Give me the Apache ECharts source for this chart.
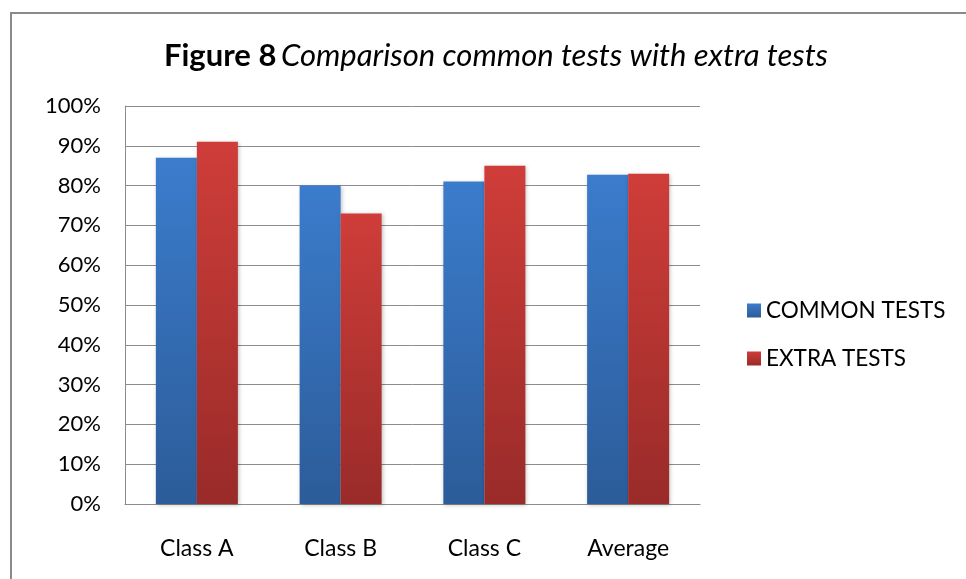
<!DOCTYPE html>
<html>
<head>
<meta charset="utf-8">
<script src="https://cdn.jsdelivr.net/npm/echarts@6/dist/echarts.min.js"></script>
<style>
  html, body { margin: 0; padding: 0; background: #fff; }
  #myChart { width: 966px; height: 579px; }
</style>
</head>
<body>
<div id="myChart"></div>
<script>
// data
var categories = ['Class A', 'Class B', 'Class C', 'Average'];
var commonTests = [87, 80, 81, 82.7];
var extraTests = [91, 73, 85, 83];
var seriesNames = ['COMMON TESTS', 'EXTRA TESTS'];

var font = 'Lato';
var myChart = echarts.init(document.getElementById('myChart'));

function grad(top, bottom) {
    return new echarts.graphic.LinearGradient(0, 0, 0, 1, [
        { offset: 0, color: top },
        { offset: 1, color: bottom }
    ]);
}

var option = {
    backgroundColor: '#fff',
    textStyle: { fontFamily: font },
    animation: false,
    graphic: [{
        type: 'rect',
        shape: { x: 11, y: 13, width: 1000, height: 700 },
        style: { fill: 'none', stroke: '#8a8a8a', lineWidth: 2 },
        silent: true
    }],
    title: {
        text: '{b|Figure 8} {i|Comparison common tests with extra tests}',
        left: 491,
        textAlign: 'center',
        top: 35,
        textStyle: {
            fontWeight: 'normal',
            rich: {
                b: { fontFamily: font, fontWeight: 'bold', fontSize: 31, color: '#000' },
                i: { fontFamily: font, fontStyle: 'italic', fontWeight: 'normal', fontSize: 31, color: '#000' }
            }
        }
    },
    legend: {
        orient: 'vertical',
        left: 742,
        top: 294,
        itemWidth: 14,
        itemHeight: 14,
        itemGap: 25,
        icon: 'rect',
        textStyle: { fontSize: 22.5, color: '#000', fontFamily: font },
        data: seriesNames
    },
    grid: { left: 125, top: 106, width: 575, height: 398, containLabel: false },
    xAxis: {
        type: 'category',
        data: categories,
        axisTick: { show: false },
        axisLine: { show: true, lineStyle: { color: '#8c8c8c', width: 1 } },
        axisLabel: { fontSize: 23, color: '#000', margin: 33, fontFamily: font }
    },
    yAxis: {
        type: 'value',
        min: 0,
        max: 100,
        interval: 10,
        axisLine: { show: true, lineStyle: { color: '#8c8c8c', width: 1 } },
        axisTick: { show: false },
        splitLine: { show: true, lineStyle: { color: '#8c8c8c', width: 1 } },
        axisLabel: { fontSize: 22, color: '#000', margin: 24, fontFamily: font,
            formatter: function (v) { return v + '%'; } }
    },
    series: [{
        name: seriesNames[0],
        type: 'bar',
        data: commonTests,
        barWidth: 41,
        barGap: '0%',
        itemStyle: {
            color: grad('#3b7ccc', '#2c5c99'),
            shadowColor: 'rgba(0,0,0,0.25)', shadowBlur: 4, shadowOffsetX: 1, shadowOffsetY: 1
        }
    }, {
        name: seriesNames[1],
        type: 'bar',
        data: extraTests,
        barWidth: 41,
        barGap: '0%',
        itemStyle: {
            color: grad('#cf3d39', '#992b29'),
            shadowColor: 'rgba(0,0,0,0.25)', shadowBlur: 4, shadowOffsetX: 1, shadowOffsetY: 1
        }
    }]
};

myChart.setOption(option);
window.addEventListener('resize', function () { myChart.resize(); });
</script>
</body>
</html>
